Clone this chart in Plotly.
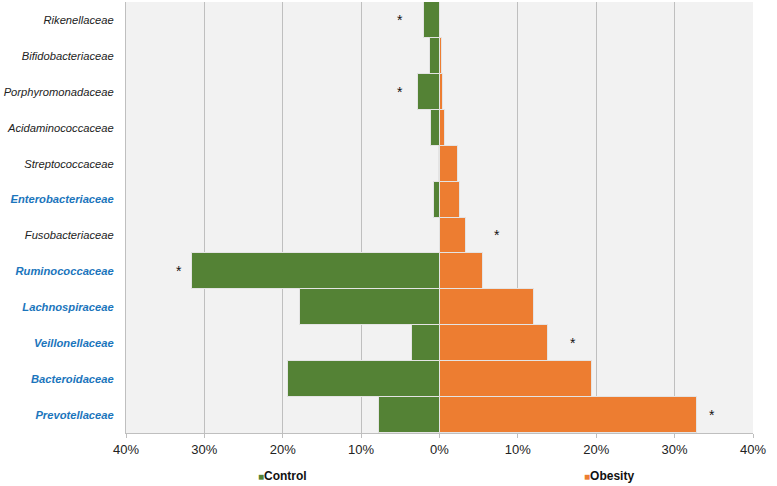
import plotly.graph_objects as go

# families, top to bottom
families = ["Rikenellaceae", "Bifidobacteriaceae", "Porphyromonadaceae", "Acidaminococcaceae",
            "Streptococcaceae", "Enterobacteriaceae", "Fusobacteriaceae", "Ruminococcaceae",
            "Lachnospiraceae", "Veillonellaceae", "Bacteroidaceae", "Prevotellaceae"]
highlighted = ["Enterobacteriaceae", "Ruminococcaceae", "Lachnospiraceae",
               "Veillonellaceae", "Bacteroidaceae", "Prevotellaceae"]

# relative abundance, %
control = [2.0, 1.2, 2.7, 1.05, 0.1, 0.75, 0.0, 31.6, 17.8, 3.55, 19.3, 7.7]
obesity = [0.05, 0.3, 0.4, 0.7, 2.3, 2.6, 3.4, 5.6, 12.1, 13.9, 19.5, 32.8]

# significance markers (x in %, negative = control side)
star_family = ["Rikenellaceae", "Porphyromonadaceae", "Fusobacteriaceae",
               "Ruminococcaceae", "Veillonellaceae", "Prevotellaceae"]
star_x = [-5.0, -5.0, 7.3, -33.2, 17.0, 34.8]

ticks = [-40, -30, -20, -10, 0, 10, 20, 30, 40]
tick_labels = [str(abs(t)) + "%" for t in ticks]

GREEN = "#548235"
ORANGE = "#ED7D31"
BLUE = "#1B75BC"
FONT = "Liberation Sans, Arial, sans-serif"


def label(name):
    if name in highlighted:
        return "<span style='color:%s'><b><i>%s</i></b></span>" % (BLUE, name)
    return "<i>%s</i>" % name


fig = go.Figure()
fig.add_trace(go.Bar(y=families, x=[-v for v in control], orientation="h", name="Control",
                     marker=dict(color=GREEN, line=dict(color="#e4e4e4", width=1))))
fig.add_trace(go.Bar(y=families, x=obesity, orientation="h", name="Obesity",
                     marker=dict(color=ORANGE, line=dict(color="#e4e4e4", width=1))))

for f, x in zip(star_family, star_x):
    fig.add_annotation(x=x, y=f, text="*", showarrow=False,
                       font=dict(size=14, color="#111", family=FONT))

for name, color, px in [("Control", GREEN, 282), ("Obesity", ORANGE, 609)]:
    fig.add_annotation(xref="paper", yref="paper", x=(px - 126) / 627, y=(433 - 476) / 431,
                       xanchor="center", yanchor="middle", showarrow=False,
                       text="<span style='color:%s;font-size:10px'>■</span><b>%s</b>" % (color, name),
                       font=dict(size=12, color="#111", family=FONT))

fig.update_layout(
    width=777, height=486,
    margin=dict(l=126, r=24, t=2, b=53),
    barmode="relative", bargap=0,
    showlegend=False,
    plot_bgcolor="#F2F2F2", paper_bgcolor="white",
    font=dict(family=FONT, color="#222"),
)
fig.update_xaxes(range=[-40, 40], tickvals=ticks, ticktext=tick_labels, automargin=False,
                 showgrid=True, gridcolor="#BFBFBF", gridwidth=1,
                 zeroline=True, zerolinecolor="#BFBFBF", zerolinewidth=1,
                 showline=True, linecolor="#BFBFBF", ticks="outside", ticklen=4,
                 tickcolor="#BFBFBF", tickfont=dict(size=13, color="#222"))
fig.update_yaxes(autorange="reversed", tickvals=families, automargin=False,
                 ticktext=[label(f) for f in families],
                 showgrid=False, showline=True, linecolor="#BFBFBF",
                 ticks="outside", ticklen=9, tickcolor="rgba(0,0,0,0)",
                 tickfont=dict(size=11.2, color="#222"))

# the page has a default 8px body margin; drop it so the figure fills the window
fig.write_html("out.html", config={"displayModeBar": False},
               post_script="document.body.style.margin='0';")
